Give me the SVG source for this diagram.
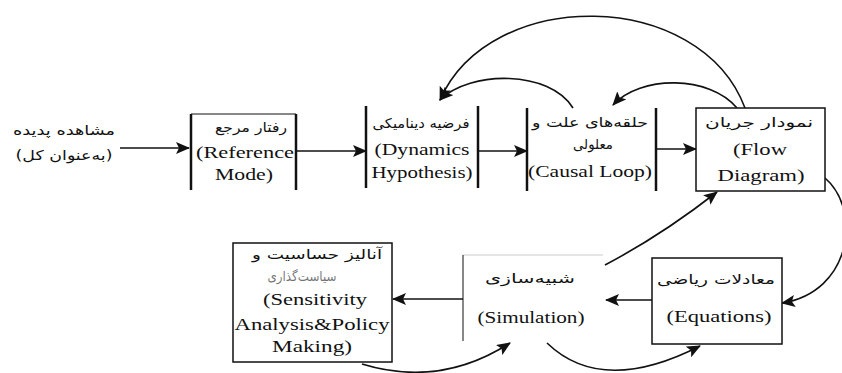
<svg xmlns="http://www.w3.org/2000/svg" width="842" height="373" viewBox="0 0 842 373">
<style>
.en{font-family:"Liberation Serif","Times New Roman",serif;font-size:17px;fill:#111;text-anchor:middle}
.fa{font-family:"DejaVu Sans","Noto Sans",sans-serif;font-size:13.5px;fill:#111;text-anchor:middle}
.box{fill:#fff;stroke:#111;stroke-width:1.5}
.side{stroke:#111;stroke-width:2.5;fill:none}
.thin{stroke:#111;stroke-width:1;fill:none}
.faint{stroke:#ccc;stroke-width:1;fill:none}
.con{fill:none;stroke:#111;stroke-width:1.6}
</style>
<defs>
<marker id="ah" markerUnits="userSpaceOnUse" markerWidth="14" markerHeight="12" viewBox="0 0 14 12" refX="13" refY="6" orient="auto">
<path d="M0,0 L14,6 L0,12 L3,6 Z" fill="#111"/>
</marker>
</defs>

<g id="connectors">
<path class="con" d="M120,148 L189,148" marker-end="url(#ah)"/>
<path class="con" d="M296,151 L366,151" marker-end="url(#ah)"/>
<path class="con" d="M478,151 L527,151" marker-end="url(#ah)"/>
<path class="con" d="M656,149 L696,149" marker-end="url(#ah)"/>
<path class="con" d="M745,108 C700,-12 490,-14 440,100" marker-end="url(#ah)"/>
<path class="con" d="M573,108 C550,70 470,70 440,100" marker-end="url(#ah)"/>
<path class="con" d="M737,108 C710,75 640,75 613,105" marker-end="url(#ah)"/>
<path class="con" d="M825,178 C862,210 852,292 782,303" marker-end="url(#ah)"/>
<path class="con" d="M605,265 Q662,235 717,192" marker-end="url(#ah)"/>
<path class="con" d="M652,300 L606,300" marker-end="url(#ah)"/>
<path class="con" d="M463,299 L393,299" marker-end="url(#ah)"/>
<path class="con" d="M362,364 Q440,388 510,343" marker-end="url(#ah)"/>
<path class="con" d="M547,343 Q602,396 700,346" marker-end="url(#ah)"/>
</g>

<g id="observation">
<text class="fa" x="64" y="135" textLength="102" lengthAdjust="spacingAndGlyphs">مشاهده پدیده</text>
<text class="fa" x="64" y="160" textLength="97" lengthAdjust="spacingAndGlyphs">(به‌عنوان کل)</text>
</g>

<g id="reference-mode">
<line class="thin" x1="191" y1="114" x2="296" y2="114"/>
<line class="side" x1="191" y1="114" x2="191" y2="190"/>
<line class="side" x1="296" y1="114" x2="296" y2="190"/>
<text class="fa" x="251" y="132" textLength="72" lengthAdjust="spacingAndGlyphs">رفتار مرجع</text>
<text class="en" x="245" y="158" textLength="98" lengthAdjust="spacingAndGlyphs">(Reference</text>
<text class="en" x="244" y="180" textLength="58" lengthAdjust="spacingAndGlyphs">Mode)</text>
</g>

<g id="dynamics-hypothesis">
<line class="side" x1="366" y1="106" x2="366" y2="188"/>
<line class="side" x1="478" y1="106" x2="478" y2="188"/>
<text class="fa" x="421" y="128" textLength="97" lengthAdjust="spacingAndGlyphs">فرضیه دینامیکی</text>
<text class="en" x="422" y="155" textLength="95" lengthAdjust="spacingAndGlyphs">(Dynamics</text>
<text class="en" x="422" y="178" textLength="101" lengthAdjust="spacingAndGlyphs">Hypothesis)</text>
</g>

<g id="causal-loop">
<line class="side" x1="527" y1="108" x2="527" y2="191"/>
<line class="side" x1="656" y1="108" x2="656" y2="191"/>
<text class="fa" x="590" y="127" textLength="116" lengthAdjust="spacingAndGlyphs">حلقه‌های علت و</text>
<text class="fa" x="593" y="149" textLength="40" lengthAdjust="spacingAndGlyphs">معلولی</text>
<text class="en" x="590" y="177" textLength="124" lengthAdjust="spacingAndGlyphs">(Causal Loop)</text>
</g>

<g id="flow-diagram">
<rect class="box" x="696" y="108" width="129" height="83"/>
<text class="fa" x="759" y="127" textLength="108" lengthAdjust="spacingAndGlyphs">نمودار جریان</text>
<text class="en" x="760" y="155" textLength="54" lengthAdjust="spacingAndGlyphs">(Flow</text>
<text class="en" x="761" y="181" textLength="87" lengthAdjust="spacingAndGlyphs">Diagram)</text>
</g>

<g id="equations">
<rect class="box" x="652" y="258" width="130" height="86"/>
<text class="fa" x="716" y="284" textLength="118" lengthAdjust="spacingAndGlyphs">معادلات ریاضی</text>
<text class="en" x="719" y="322" textLength="105" lengthAdjust="spacingAndGlyphs">(Equations)</text>
</g>

<g id="simulation">
<line class="faint" x1="463" y1="255" x2="603" y2="255"/>
<line class="thin" x1="463" y1="255" x2="463" y2="341"/>
<text class="fa" x="530" y="283" textLength="90" lengthAdjust="spacingAndGlyphs">شبیه‌سازی</text>
<text class="en" x="531" y="323" textLength="107" lengthAdjust="spacingAndGlyphs">(Simulation)</text>
</g>

<g id="sensitivity-analysis">
<rect class="box" x="233" y="243" width="159" height="119"/>
<text class="fa" x="317" y="259" textLength="130" lengthAdjust="spacingAndGlyphs">آنالیز حساسیت و</text>
<text class="fa" x="302" y="281" fill-opacity="0.6" textLength="69" lengthAdjust="spacingAndGlyphs">سیاست‌گذاری</text>
<text class="en" x="315" y="305" textLength="104" lengthAdjust="spacingAndGlyphs">(Sensitivity</text>
<text class="en" x="312" y="330" textLength="155" lengthAdjust="spacingAndGlyphs">Analysis&amp;Policy</text>
<text class="en" x="312" y="352" textLength="80" lengthAdjust="spacingAndGlyphs">Making)</text>
</g>
</svg>
